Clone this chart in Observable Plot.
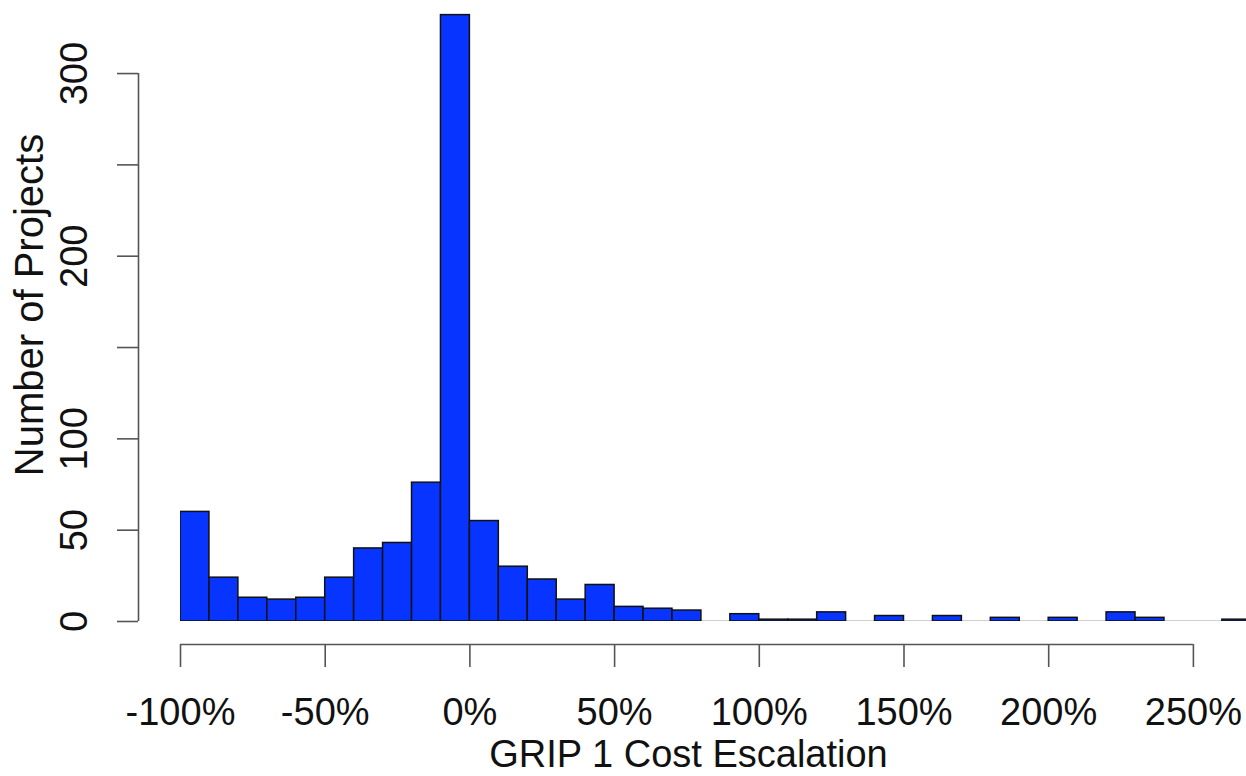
<!DOCTYPE html>
<html>
<head>
<meta charset="utf-8">
<script src="https://cdn.jsdelivr.net/npm/d3@7"></script>
<script src="https://cdn.jsdelivr.net/npm/@observablehq/plot@0.6"></script>
<style>
  html, body { margin: 0; padding: 0; background: #fff; overflow: hidden; }
</style>
</head>
<body>
<div id="chart"></div>
<script>
// Histogram bin edges (GRIP 1 cost escalation, %)
const binEdges = [-100, -90, -80, -70, -60, -50, -40, -30, -20, -10, 0, 10, 20, 30, 40, 50, 60, 70, 80, 90,
                  100, 110, 120, 130, 140, 150, 160, 170, 180, 190, 200, 210, 220, 230, 240, 250, 260, 270];
// Number of projects per bin
const counts = [60, 24, 13, 12, 13, 24, 40, 43, 76, 332, 55, 30, 23, 12, 20, 8, 7, 6, 0, 4,
                1, 1, 5, 0, 3, 0, 3, 0, 2, 0, 2, 0, 5, 2, 0, 0, 1];
const xTicks = [-100, -50, 0, 50, 100, 150, 200, 250];
const yTicks = [0, 50, 100, 150, 200, 250, 300];
const yLabels = [0, 50, 100, 200, 300];
const xTitle = "GRIP 1 Cost Escalation";
const yTitle = "Number of Projects";

const bins = counts.map((c, i) => ({x1: binEdges[i], x2: binEdges[i + 1], count: c}));

const FS = 38;
const axisColor = "#555";

const chart = Plot.plot({
  width: 1246,
  height: 776,
  marginLeft: 180,
  marginRight: 0,
  marginTop: 0,
  marginBottom: 155,
  style: {fontFamily: "'Liberation Sans', Arial, sans-serif", fontSize: FS + "px", color: "#000", background: "#fff"},
  x: {domain: [-100, 268.35], axis: null},
  y: {domain: [0, 340], axis: null},
  marks: [
    // baseline drawn by empty bins
    Plot.ruleY([0], {x1: binEdges[0], x2: binEdges[binEdges.length - 1], stroke: "#444", strokeWidth: 1.5, clip: true}),
    Plot.rectY(bins.filter(d => d.count > 0), {x1: "x1", x2: "x2", y1: 0, y2: "count", fill: "#0735ff", stroke: "#111", strokeWidth: 1.5, clip: true}),
    // x axis
    Plot.ruleY([0], {x1: d3.min(xTicks), x2: d3.max(xTicks), dy: 23, stroke: axisColor, strokeWidth: 1.6}),
    Plot.axisX({ticks: xTicks, tickFormat: d => `${d}%`, tickSize: 23, tickPadding: 31, dy: 23,
                stroke: axisColor, strokeWidth: 1.6, fontSize: FS, fill: "#111", label: null}),
    Plot.text([xTitle], {frameAnchor: "bottom", text: d => d, dx: -25, dy: 119, lineAnchor: "top", fontSize: FS, fill: "#111"}),
    // y axis
    Plot.ruleX(xTicks.slice(0, 1), {y1: d3.min(yTicks), y2: d3.max(yTicks), dx: -42, stroke: axisColor, strokeWidth: 1.6}),
    Plot.axisY({ticks: yTicks, tickSize: 21, dx: -42, tickFormat: () => "", stroke: axisColor, strokeWidth: 1.6, label: null}),
    Plot.text(yLabels, {y: d => d, text: d => String(d), frameAnchor: "left", textAnchor: "middle", dx: -106, rotate: -90, lineAnchor: "middle", fontSize: FS, fill: "#111"}),
    Plot.text([yTitle], {frameAnchor: "left", textAnchor: "middle", text: d => d, dx: -150, dy: -6, rotate: -90, lineAnchor: "middle", fontSize: 40, fill: "#111"})
  ]
});
document.getElementById("chart").appendChild(chart);
</script>
</body>
</html>
